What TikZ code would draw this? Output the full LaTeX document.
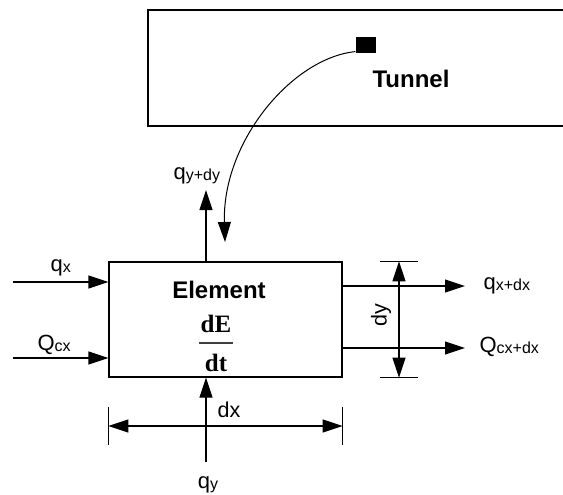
\documentclass[tikz,border=0pt]{standalone}
\usepackage{fontspec}
\setmainfont{Liberation Sans}
\newfontfamily\fracfont{Liberation Serif}
\usetikzlibrary{arrows.meta,positioning}
\newcommand{\flux}[2]{{\fontsize{22}{22}\selectfont #1}{\fontsize{16}{16}\selectfont\raisebox{-1.5pt}{#2}}}

\begin{document}
\begin{tikzpicture}[x=1pt,y=-1pt,
line width=1.2pt,
arr/.style={-{Triangle[length=20pt,width=13pt]}},
dim/.style={{Triangle[length=20pt,width=13pt]}-{Triangle[length=20pt,width=13pt]}},
title/.style={font=\bfseries\fontsize{24}{24}\selectfont,inner sep=0pt,anchor=base},
lbl/.style={inner sep=0pt,anchor=base west},
dimlbl/.style={inner sep=0pt,font=\fontsize{21.5}{21.5}\selectfont},
frac/.style={inner sep=0pt,font=\fracfont\bfseries\fontsize{25}{25}\selectfont},
elbox/.style={draw,minimum width=233pt,minimum height=115pt,inner sep=0pt}]
\useasboundingbox (0,0) rectangle (563,495);

% tunnel, open to the right
\coordinate (tnw) at (148,10);
\coordinate (tse) at (563,126);
\draw (tnw -| tse) -- (tnw) -- (tnw |- tse) -- (tse);
\node[fill,minimum width=20pt,minimum height=16pt,inner sep=0pt] (src) at (366,45) {};
\node[title] (tunnel) at (411,88) {Tunnel};

% element
\node[elbox] (elem) at (225.5,319.5) {};
\node[title] (eltxt) at (219,298) {Element};
\node[fill=black!75,minimum width=34pt,minimum height=1.2pt,inner sep=0pt] (bar) at (216,343) {};
\node[frac,above=8.5pt of bar] (de) {dE};
\node[frac,below=9pt of bar] (dt) {dt};

% curve from the tunnel
\coordinate (tip) at (225,242);
\draw[arr,line width=1pt] ([yshift=2pt]src.south west) .. controls (292,58) and (222,142) .. (tip);

% x fluxes
\coordinate (qxs) at (13,282);
\coordinate (qcs) at (13,358);
\draw[arr] (qxs) -- (qxs -| elem.west);
\draw[arr] (qcs) -- (qcs -| elem.west);
\node[lbl] (qx) at (50,271) {\flux{q}{x}};
\node[lbl] (qcx) at (37,350) {\flux{Q}{cx}};

\coordinate (qxe) at (465,286);
\coordinate (qce) at (465,348);
\draw[arr] (qxe -| elem.east) -- (qxe);
\draw[arr] (qce -| elem.east) -- (qce);
\node[lbl] (qxdx) at (483,289) {\flux{q}{x+dx}};
\node[lbl] (qcxdx) at (479,352) {\flux{Q}{cx+dx}};

% y fluxes
\coordinate (qyt) at (206,190);
\coordinate (qyb) at (206,462);
\draw[arr] (qyt |- elem.north) -- (qyt);
\draw[arr] (qyb) -- (qyb |- elem.south);
\node[lbl] (qydy) at (173,179) {\flux{q}{y+dy}};
\node[lbl,anchor=base] (qy) at (208,488) {\flux{q}{y}};

% dimensions
\coordinate (dxl) at (108,426);
\coordinate (dxt) at (0,407);
\coordinate (dxb) at (0,445);
\draw[dim] (dxl -| elem.west) -- (dxl -| elem.east);
\draw (dxt -| elem.west) -- (dxb -| elem.west);
\draw (dxt -| elem.east) -- (dxb -| elem.east);
\node[dimlbl,anchor=base west] (dx) at (217,417) {dx};

\coordinate (dyx) at (399,0);
\coordinate (dyl) at (380,0);
\coordinate (dyr) at (418,0);
\draw[dim] (dyx |- elem.north) -- (dyx |- elem.south);
\draw (dyl |- elem.north) -- (dyr |- elem.north);
\draw (dyl |- elem.south) -- (dyr |- elem.south);
\node[dimlbl,rotate=90] (dy) at (381,315) {dy};
\end{tikzpicture}
\end{document}
